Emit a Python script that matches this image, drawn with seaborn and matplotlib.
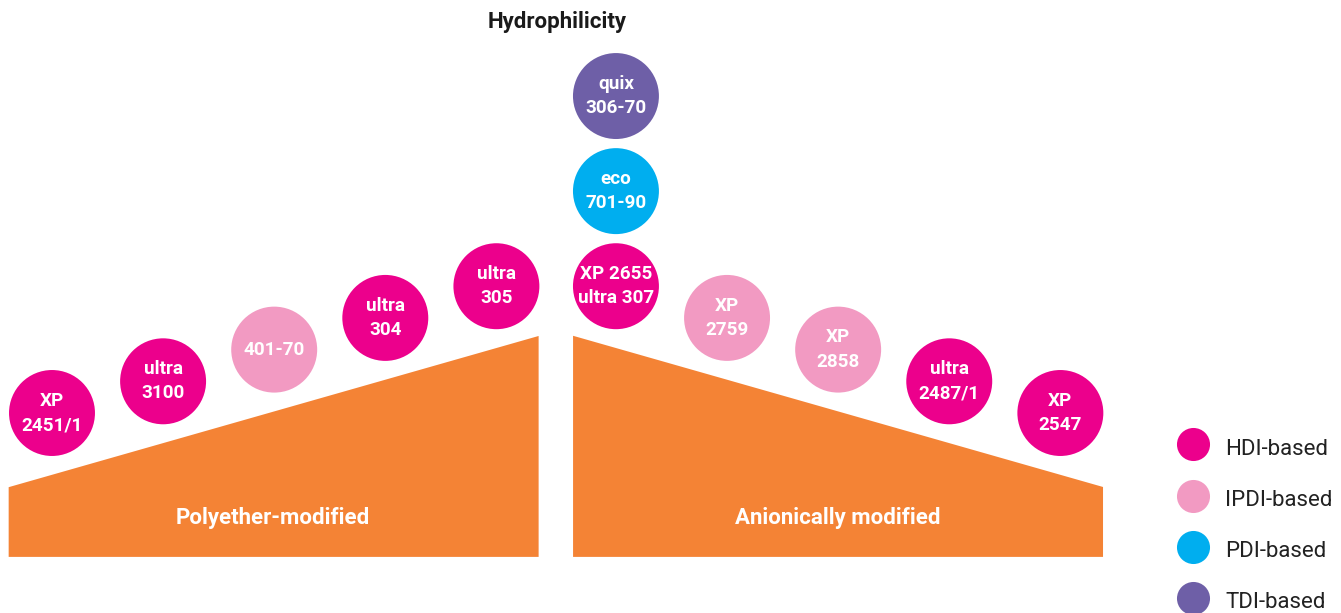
import numpy as np
import pandas as pd
import matplotlib.pyplot as plt
import seaborn as sns
from matplotlib.lines import Line2D

sns.set_theme(style="white")
plt.rcParams["font.family"] = ["Roboto", "DejaVu Sans"]

# 제품 데이터 (slot = 가로 위치, level = 친수성 단계)
products = ["XP\n2451/1", "ultra\n3100", "401-70", "ultra\n304", "ultra\n305",
            "XP 2655\nultra 307", "eco\n701-90", "quix\n306-70",
            "XP\n2759", "XP\n2858", "ultra\n2487/1", "XP\n2547"]
family = ["HDI", "HDI", "IPDI", "HDI", "HDI",
          "HDI", "PDI", "TDI",
          "IPDI", "IPDI", "HDI", "HDI"]
group = ["left"] * 5 + ["center"] * 3 + ["right"] * 4
slot = [0, 1, 2, 3, 4, 5, 5, 5, 6, 7, 8, 9]
level = [0, 1, 2, 3, 4, 4, 7, 10, 3, 2, 1, 0]

families = ["HDI", "IPDI", "PDI", "TDI"]
legend_labels = ["HDI-based", "IPDI-based", "PDI-based", "TDI-based"]
wedge_labels = ["Polyether-modified", "Anionically modified"]

PALETTE = {"HDI": "#EC008C", "IPDI": "#F29AC2", "PDI": "#00AEEF", "TDI": "#6E5FA7"}
ORANGE = "#F48335"
SHIFT = 0.076      # 가운데/오른쪽 그룹 오프셋
GAP = 1.95         # 원과 쐐기 윗변 사이 간격 (level 단위)

df = pd.DataFrame({"name": products, "family": family, "group": group,
                   "slot": slot, "level": level})
df["x"] = df["slot"] + np.where(df["group"] == "left", 0, SHIFT)

fig = plt.figure(figsize=(13.41, 6.13), dpi=100)
ax = fig.add_axes([0, 0, 1, 1])
ax.set_xlim(-0.468, 11.602)
ax.set_ylim(-6.31, 13.03)
ax.axis("off")

# 쐐기 (양쪽 사다리꼴)
bottom = -4.54
lx = np.array([-0.39, 4.38])
ax.fill([lx[0], lx[1], lx[1], lx[0]],
        [bottom, bottom, lx[1] - GAP, lx[0] - GAP], color=ORANGE, lw=0, zorder=1)
rx = np.array([4.69, 9.46])
r_top = (9 + SHIFT) - rx - GAP
ax.fill([rx[0], rx[1], rx[1], rx[0]],
        [bottom, bottom, r_top[1], r_top[0]], color=ORANGE, lw=0, zorder=1)

ax.text(lx.mean() - 0.01, -3.31, wedge_labels[0], color="white", fontsize=16,
        fontweight="bold", ha="center", va="center")
ax.text(rx.mean(), -3.31, wedge_labels[1], color="white", fontsize=16,
        fontweight="bold", ha="center", va="center")

# 제품 원
sns.scatterplot(data=df, x="x", y="level", hue="family", hue_order=families,
                palette=PALETTE, s=3830, linewidth=0, legend=False, ax=ax, zorder=3)
for _, r in df.iterrows():
    ax.text(r["x"], r["level"], r["name"], color="white", fontsize=13.6,
            fontweight="bold", ha="center", va="center", linespacing=1.45, zorder=4)

ax.text(0.4153, 0.964, "Hydrophilicity", transform=ax.transAxes, fontsize=16,
        fontweight="bold", color="#1A1A1A", ha="center", va="center")

# 범례
handles = [Line2D([], [], marker="o", ls="", markersize=23.8,
                  markerfacecolor=PALETTE[f], markeredgewidth=0) for f in families]
ax.legend(handles, legend_labels, loc="upper left", bbox_to_anchor=(0.8809, 0.292),
          frameon=False, fontsize=16, handlelength=1.05, handleheight=1.49,
          handletextpad=0.92, labelspacing=1.09, borderpad=0, borderaxespad=0,
          labelcolor="#222222")

fig.savefig("out.png", dpi=100)
